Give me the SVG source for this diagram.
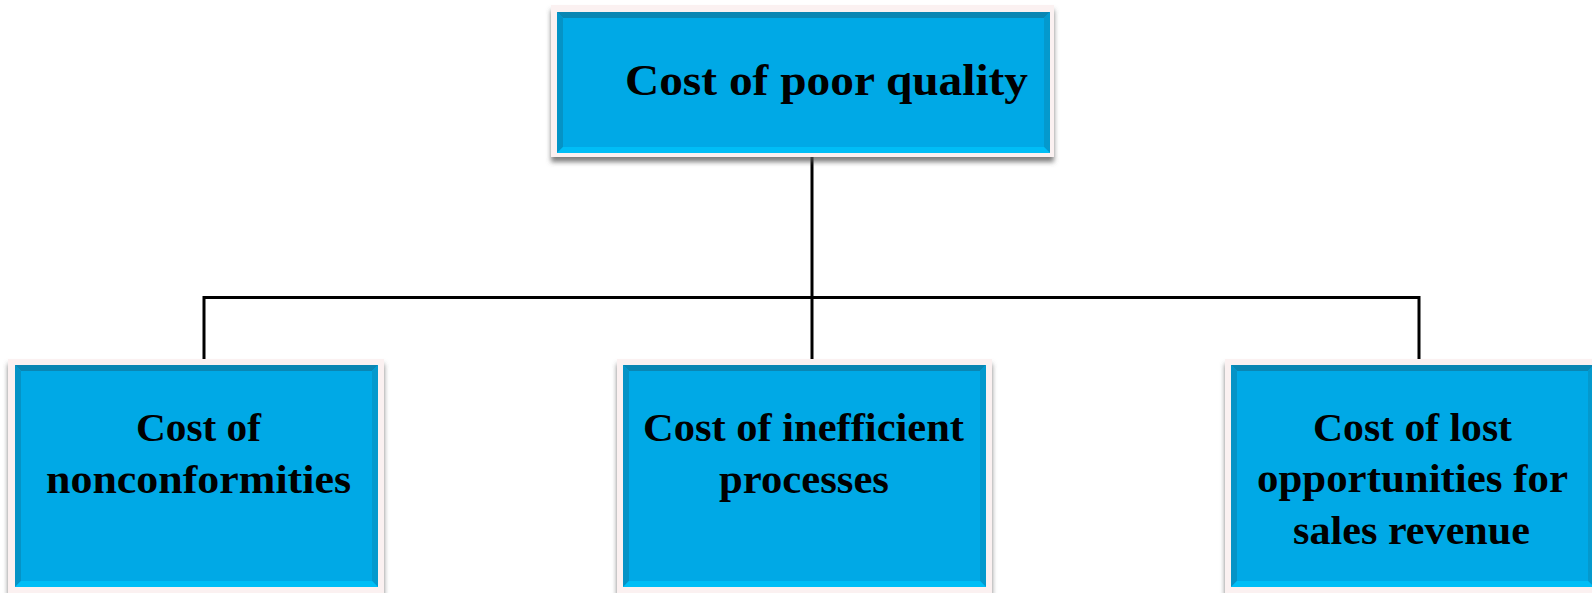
<svg xmlns="http://www.w3.org/2000/svg" width="1592" height="593" viewBox="0 0 1592 593">
<defs>
<filter id="sh" x="-5%" y="-10%" width="110%" height="125%">
<feDropShadow dx="0" dy="5" stdDeviation="2.5" flood-color="#555" flood-opacity="0.75"/>
</filter>
</defs>
<style>
.frame{fill:#fbf1f1;filter:url(#sh)}
.face{fill:#00a9e6}
.bt{fill:#0a86b3}
.bl{fill:#0593c6}
.br{fill:#0499cd}
.bb{fill:#00bef6}
.lbl{font-family:"Liberation Serif","Times New Roman",serif;font-weight:bold;fill:#000}
.conn{stroke:#000;stroke-width:3;fill:none}
</style>
<rect width="1592" height="593" fill="#fff"/>
<g id="connectors">
<line class="conn" x1="812" y1="155" x2="812" y2="360"/>
<polyline class="conn" points="204,360 204,297.5 1419,297.5 1419,360"/>
</g>
<g id="node-top">
<rect class="frame" x="551" y="5" width="503" height="152"/>
<rect class="face" x="557" y="12" width="493" height="141"/>
<polygon class="bt" points="557,12 1050,12 1044,18 563,18"/>
<polygon class="bl" points="557,12 563,18 563,147 557,153"/>
<polygon class="br" points="1050,12 1050,153 1044,147 1044,18"/>
<polygon class="bb" points="557,153 1050,153 1044,147 563,147"/>
<text class="lbl" x="625" y="95" font-size="45" textLength="403" lengthAdjust="spacingAndGlyphs">Cost of poor quality</text>
</g>
<g id="node-left">
<rect class="frame" x="8" y="359" width="376" height="234"/>
<rect class="face" x="15" y="365" width="363" height="222"/>
<polygon class="bt" points="15,365 378,365 372,371 21,371"/>
<polygon class="bl" points="15,365 21,371 21,581 15,587"/>
<polygon class="br" points="378,365 378,587 372,581 372,371"/>
<polygon class="bb" points="15,587 378,587 372,581 21,581"/>
<text class="lbl" x="136" y="441" font-size="39" textLength="125" lengthAdjust="spacingAndGlyphs">Cost of</text>
<text class="lbl" x="46" y="493" font-size="39" textLength="305" lengthAdjust="spacingAndGlyphs">nonconformities</text>
</g>
<g id="node-middle">
<rect class="frame" x="617" y="359" width="375" height="234"/>
<rect class="face" x="623" y="365" width="363" height="222"/>
<polygon class="bt" points="623,365 986,365 980,371 629,371"/>
<polygon class="bl" points="623,365 629,371 629,581 623,587"/>
<polygon class="br" points="986,365 986,587 980,581 980,371"/>
<polygon class="bb" points="623,587 986,587 980,581 629,581"/>
<text class="lbl" x="643" y="441" font-size="39" textLength="321" lengthAdjust="spacingAndGlyphs">Cost of inefficient</text>
<text class="lbl" x="719" y="493" font-size="39" textLength="170" lengthAdjust="spacingAndGlyphs">processes</text>
</g>
<g id="node-right">
<rect class="frame" x="1225" y="359" width="376" height="234"/>
<rect class="face" x="1231" y="365" width="363" height="222"/>
<polygon class="bt" points="1231,365 1594,365 1588,371 1237,371"/>
<polygon class="bl" points="1231,365 1237,371 1237,581 1231,587"/>
<polygon class="br" points="1594,365 1594,587 1588,581 1588,371"/>
<polygon class="bb" points="1231,587 1594,587 1588,581 1237,581"/>
<text class="lbl" x="1313" y="441" font-size="39" textLength="199" lengthAdjust="spacingAndGlyphs">Cost of lost</text>
<text class="lbl" x="1257" y="492" font-size="39" textLength="311" lengthAdjust="spacingAndGlyphs">opportunities for</text>
<text class="lbl" x="1293" y="544" font-size="39" textLength="237" lengthAdjust="spacingAndGlyphs">sales revenue</text>
</g>
</svg>
